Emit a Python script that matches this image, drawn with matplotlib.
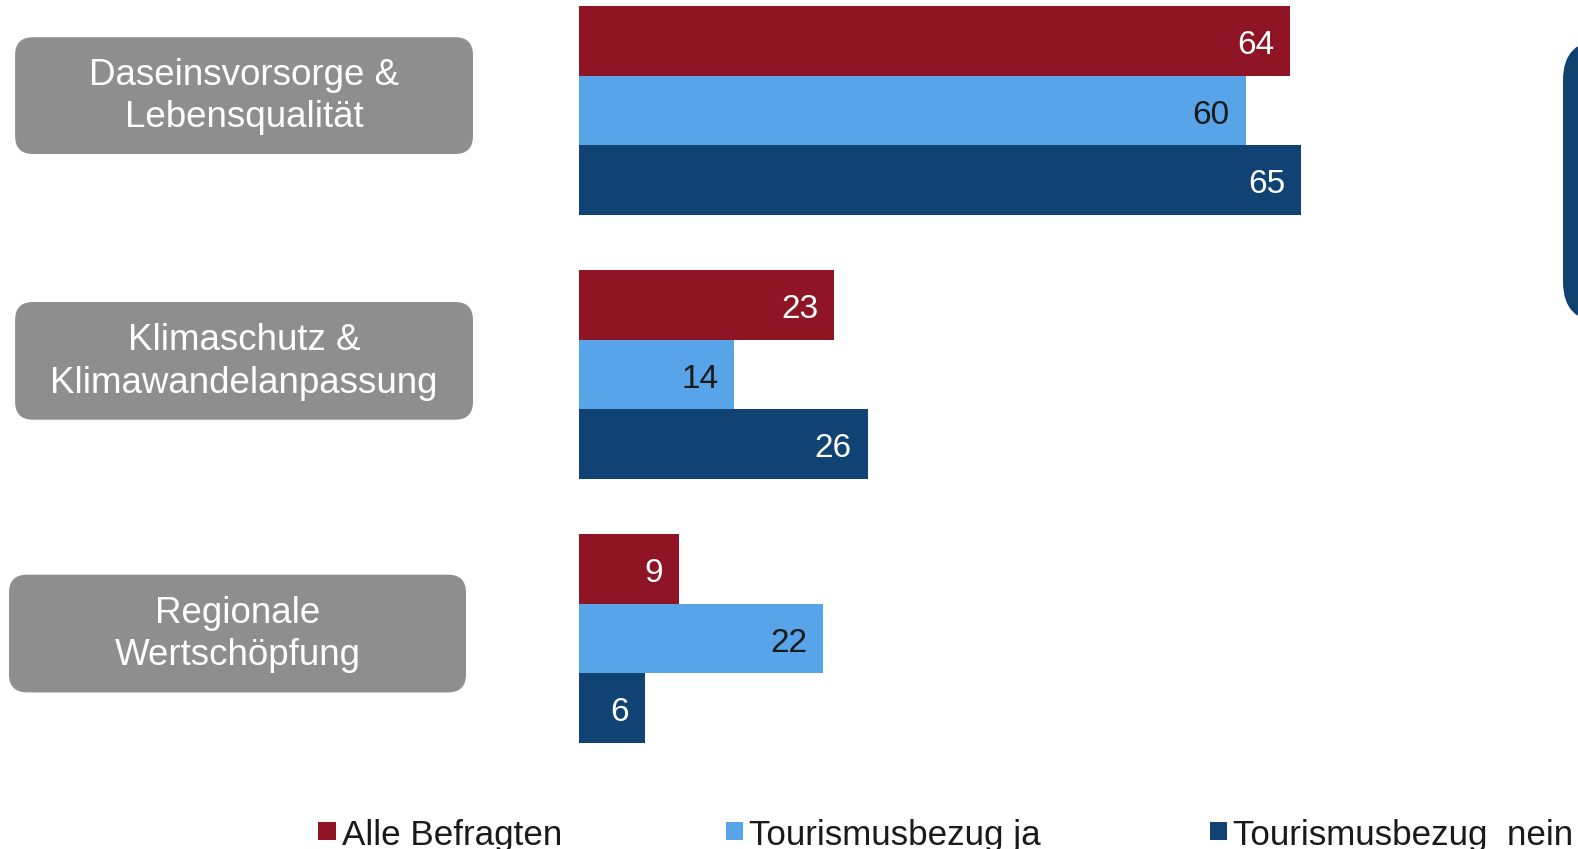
import matplotlib
matplotlib.use("Agg")
import matplotlib.pyplot as plt
from matplotlib.patches import FancyBboxPatch, Rectangle
import numpy as np

plt.rcParams['font.family'] = ['Liberation Sans', 'DejaVu Sans']

categories = ["Daseinsvorsorge &\nLebensqualität",
              "Klimaschutz &\nKlimawandelanpassung",
              "Regionale\nWertschöpfung"]
series_names = ["Alle Befragten", "Tourismusbezug ja", "Tourismusbezug  nein"]
alle = [64, 23, 9]
tour_ja = [60, 14, 22]
tour_nein = [65, 26, 6]

colors = ["#8f1424", "#57a5e8", "#104274"]
label_colors = ["white", "#1a1a1a", "white"]
box_gray = "#8e8e8e"

W, H = 1578, 849
fig = plt.figure(figsize=(W / 100, H / 100), dpi=100)

def fx(x):
    return x / W

def fy(y):
    return 1 - y / H

# bar axes: y in bar units, groups 3.8 apart
group_step = 3.8
y_top, y_bot = 6.0, 742.7
x_left = 578.6
px_per_unit = 11.12
ax = fig.add_axes([fx(x_left), fy(y_bot), 1 - fx(x_left), (y_bot - y_top) / H])
ax.set_xlim(0, (W - x_left) / px_per_unit)
ax.set_ylim(2 * group_step + 1.5, -1.5)
ax.axis("off")

centers = np.arange(len(categories)) * group_step
for k, (vals, col, lc) in enumerate(zip([alle, tour_ja, tour_nein], colors, label_colors)):
    ys = centers + (k - 1)
    ax.barh(ys, vals, height=1.0, color=col, edgecolor="none")
    for y, v in zip(ys, vals):
        ax.annotate(str(v), xy=(v, y), xytext=(-11.5, -3.5), textcoords="offset points",
                    ha="right", va="center", fontsize=24, color=lc)

# rounded category boxes
boxes = [(15.1, 37.2, 473.0, 154.0), (15.1, 302.0, 473.0, 419.7), (9.0, 574.7, 466.0, 692.4)]
for (x0, y0, x1, y1), cat in zip(boxes, categories):
    r = 18
    p = FancyBboxPatch((fx(x0 + r), fy(y1 - r)), fx(x1 - x0 - 2 * r), (y1 - y0 - 2 * r) / H,
                       boxstyle=f"round,pad={r / W},rounding_size={r / W}",
                       transform=fig.transFigure, facecolor=box_gray, edgecolor="none",
                       mutation_aspect=W / H)
    fig.patches.append(p)
    fig.text(fx((x0 + x1) / 2), fy((y0 + y1) / 2 + 1), cat, ha="center", va="center",
             fontsize=26.5, color="white", linespacing=1.28)

# dark rounded panel at the right edge
r = 40
panel = FancyBboxPatch((fx(1563 + r), fy(322 - r)), fx(200), (322 - 40 - 2 * r) / H,
                       boxstyle=f"round,pad={r / W},rounding_size={r / W}",
                       transform=fig.transFigure, facecolor="#10426f", edgecolor="none",
                       mutation_aspect=W / H)
fig.patches.append(panel)

# legend
leg_x = [318.0, 725.6, 1209.7]
sq = 17.5
leg_yc = 831.0
for x, name, col in zip(leg_x, series_names, colors):
    fig.patches.append(Rectangle((fx(x), fy(leg_yc + sq / 2)), sq / W, sq / H,
                                 transform=fig.transFigure, facecolor=col, edgecolor="none"))
    fig.text(fx(x + sq + 6), fy(leg_yc + 4), name, ha="left", va="center",
             fontsize=25.2, color="#1a1a1a")

fig.savefig("out.png", dpi=100)
